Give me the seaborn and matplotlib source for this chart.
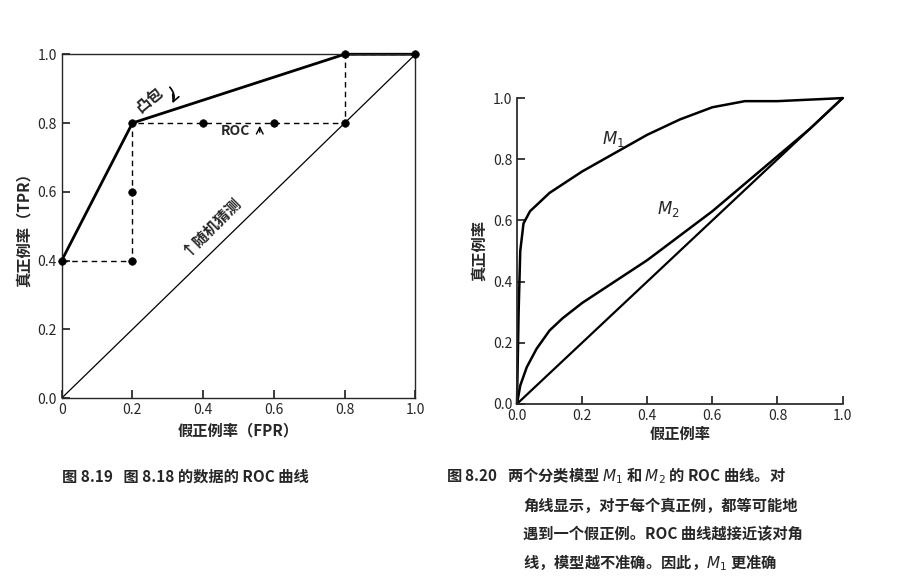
import matplotlib
matplotlib.use('Agg')
import matplotlib.pyplot as plt
import seaborn as sns

sns.set_theme(style='ticks', rc={'font.family': ['Noto Sans CJK SC', 'DejaVu Sans']})

# 左图：ROC 阶梯点与凸包
roc_fpr = [0, 0.2, 0.2, 0.2, 0.4, 0.6, 0.8, 0.8, 1.0]
roc_tpr = [0.4, 0.4, 0.6, 0.8, 0.8, 0.8, 0.8, 1.0, 1.0]
hull_fpr = [0, 0.2, 0.8, 1.0]
hull_tpr = [0.4, 0.8, 1.0, 1.0]
diag = [0, 1]

# 右图：M1 与 M2 曲线
m1_fpr = [0, 0.005, 0.01, 0.02, 0.04, 0.07, 0.1, 0.2, 0.3, 0.4, 0.5, 0.6, 0.7, 0.8, 0.9, 1.0]
m1_tpr = [0, 0.3, 0.5, 0.59, 0.63, 0.66, 0.69, 0.76, 0.82, 0.88, 0.93, 0.97, 0.99, 0.99, 0.995, 1.0]
m2_fpr = [0, 0.01, 0.03, 0.06, 0.1, 0.14, 0.2, 0.3, 0.4, 0.5, 0.6, 0.7, 0.8, 0.9, 1.0]
m2_tpr = [0, 0.06, 0.12, 0.18, 0.24, 0.28, 0.33, 0.40, 0.47, 0.55, 0.63, 0.72, 0.81, 0.90, 1.0]

fig = plt.figure(figsize=(9.07, 5.77), dpi=100)
ax1 = fig.add_axes([0.068, 0.31, 0.39, 0.596])
ax2 = fig.add_axes([0.570, 0.30, 0.359, 0.53])

# 左图
ax1.plot(diag, diag, color='black', lw=0.9)
ax1.plot(roc_fpr, roc_tpr, color='black', lw=1, ls=(0, (4, 3)))
ax1.plot(hull_fpr, hull_tpr, color='black', lw=2, clip_on=False)
sns.scatterplot(x=roc_fpr, y=roc_tpr, ax=ax1, color='black', s=30, edgecolor='black', zorder=5, clip_on=False)
ax1.set_xlim(0, 1)
ax1.set_ylim(0, 1)
ax1.set_xticks([0, 0.2, 0.4, 0.6, 0.8, 1.0])
ax1.set_xticklabels(['0', '0.2', '0.4', '0.6', '0.8', '1.0'])
ax1.set_yticks([0, 0.2, 0.4, 0.6, 0.8, 1.0])
ax1.set_yticklabels(['0.0', '0.2', '0.4', '0.6', '0.8', '1.0'])
ax1.set_xlabel('假正例率（FPR）', fontsize=11, weight='bold')
ax1.set_ylabel('真正例率（TPR）', fontsize=11, weight='bold')
ax1.tick_params(labelsize=10, direction='in')
ax1.text(0.20, 0.83, '凸包', rotation=40, fontsize=11, weight='bold')
ax1.annotate('', xy=(0.31, 0.85), xytext=(0.30, 0.91),
             arrowprops=dict(arrowstyle='->', color='black', lw=1.2, connectionstyle='arc3,rad=-0.4'))
ax1.text(0.45, 0.765, 'ROC', fontsize=10, weight='bold')
ax1.annotate('', xy=(0.56, 0.80), xytext=(0.56, 0.765),
             arrowprops=dict(arrowstyle='->', color='black', lw=1))
ax1.text(0.42, 0.50, '↑随机猜测', rotation=45, fontsize=11, weight='bold', ha='center', va='center')
for s in ax1.spines.values():
    s.set_linewidth(1)

# 右图
sns.lineplot(x=diag, y=diag, ax=ax2, color='black', lw=1.6)
sns.lineplot(x=m1_fpr, y=m1_tpr, ax=ax2, color='black', lw=1.8, sort=False)
sns.lineplot(x=m2_fpr, y=m2_tpr, ax=ax2, color='black', lw=1.8, sort=False)
ax2.set_xlim(0, 1.0)
ax2.set_ylim(0, 1.0)
for ln in ax2.lines:
    ln.set_clip_on(False)
ax2.set_xticks([0, 0.2, 0.4, 0.6, 0.8, 1.0])
ax2.set_xticklabels(['0.0', '0.2', '0.4', '0.6', '0.8', '1.0'])
ax2.set_yticks([0, 0.2, 0.4, 0.6, 0.8, 1.0])
ax2.set_yticklabels(['0.0', '0.2', '0.4', '0.6', '0.8', '1.0'])
ax2.set_xlabel('假正例率', fontsize=11, weight='bold', labelpad=2)
ax2.set_ylabel('真正例率', fontsize=11, weight='bold')
ax2.tick_params(labelsize=10, direction='in')
sns.despine(ax=ax2)
ax2.text(0.26, 0.85, '$M_1$', fontsize=12)
ax2.text(0.43, 0.62, '$M_2$', fontsize=12)

# 图注
fig.text(0.068, 0.165, '图 8.19   图 8.18 的数据的 ROC 曲线', fontsize=11, weight='bold')
fig.text(0.492, 0.165, '图 8.20   两个分类模型 $M_1$ 和 $M_2$ 的 ROC 曲线。对', fontsize=11, weight='bold')
fig.text(0.577, 0.115, '角线显示，对于每个真正例，都等可能地', fontsize=11, weight='bold')
fig.text(0.577, 0.065, '遇到一个假正例。ROC 曲线越接近该对角', fontsize=11, weight='bold')
fig.text(0.577, 0.015, '线，模型越不准确。因此，$M_1$ 更准确', fontsize=11, weight='bold')

fig.savefig('out.png', dpi=100, facecolor='white')
